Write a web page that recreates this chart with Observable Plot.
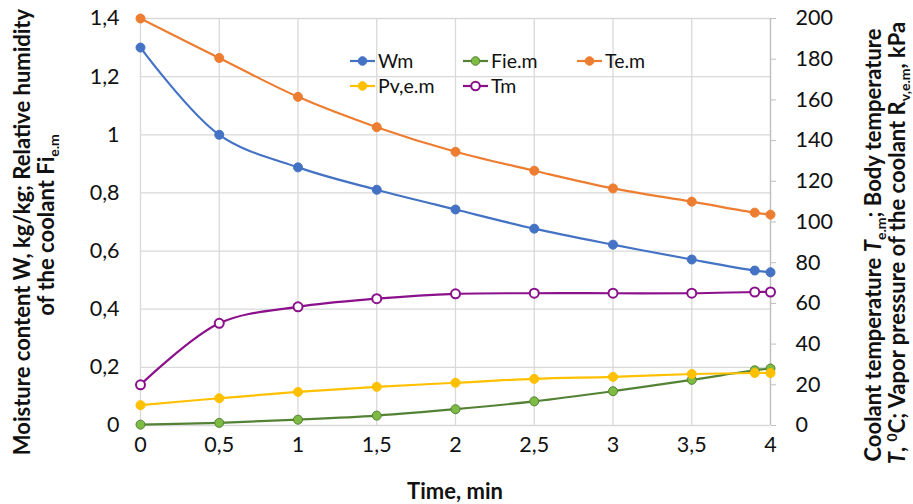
<!DOCTYPE html>
<html><head><meta charset="utf-8">
<script src="https://cdn.jsdelivr.net/npm/d3@7"></script>
<script src="https://cdn.jsdelivr.net/npm/@observablehq/plot@0.6"></script>
<style>
body{margin:0;background:#fff}
#chart svg{font-family:Lato,"Open Sans",sans-serif;background:#fff}
</style>
</head><body><div id="chart"></div>
<script>
// ---- data ----
const time = [0, 0.5, 1, 1.5, 2, 2.5, 3, 3.5, 3.9, 4];
const Wm   = [1.30, 1.00, 0.888, 0.811, 0.743, 0.677, 0.622, 0.571, 0.533, 0.527];
const Fiem = [0.003, 0.009, 0.02, 0.034, 0.056, 0.083, 0.118, 0.157, 0.19, 0.196];
const Tem  = [200, 180.6, 161.5, 146.6, 134.5, 125.2, 116.5, 110, 104.6, 103.6];
const Pvem = [10, 13.4, 16.5, 19, 21, 22.9, 23.9, 25.3, 25.8, 25.8];
const Tm   = [20, 50.2, 58.3, 62.3, 64.7, 65, 65, 65, 65.6, 65.6];
const xTicks = [0, 0.5, 1, 1.5, 2, 2.5, 3, 3.5, 4];
const leftTicks = [0, 0.2, 0.4, 0.6, 0.8, 1, 1.2, 1.4];
const rightTicks = [0, 20, 40, 60, 80, 100, 120, 140, 160, 180, 200];
const seriesNames = ["Wm", "Fie.m", "Te.m", "Pv,e.m", "Tm"];
const seriesColors = ["#4472c4", "#548235", "#ed7d31", "#ffc000", "#8b108b"];

const k = 1.4 / 200; // right axis -> left axis units
const rows = time.map((t, i) => ({t, Wm: Wm[i], Fie: Fiem[i], Te: Tem[i], Pv: Pvem[i], Tm: Tm[i]}));
const comma = d => String(d).replace(".", ",");
const grid = "#d9d9d9";
const FS = 21.5;

const series = [
  {y: d => d.Wm, color: seriesColors[0], fill: seriesColors[0]},
  {y: d => d.Fie, color: seriesColors[1], fill: "#7dbb42"},
  {y: d => d.Te * k, color: seriesColors[2], fill: seriesColors[2]},
  {y: d => d.Pv * k, color: seriesColors[3], fill: seriesColors[3]},
  {y: d => d.Tm * k, color: seriesColors[4], fill: "#fff"}
];

const marks = [
  Plot.gridX(xTicks, {stroke: grid, strokeOpacity: 1, strokeWidth: 1.3}),
  Plot.gridY(leftTicks, {stroke: grid, strokeOpacity: 1, strokeWidth: 1.3}),
  Plot.axisX(xTicks, {tickSize: 0, tickPadding: 11, fontSize: FS, fill: "#111", tickFormat: comma, label: null}),
  Plot.axisY(leftTicks, {anchor: "left", tickSize: 0, tickPadding: 21, fontSize: FS, fill: "#111", tickFormat: comma, label: null}),
  Plot.axisY(rightTicks.map(v => v * k), {anchor: "right", tickSize: 5, tickPadding: 20, fontSize: FS, fill: "#111", stroke: "#bfbfbf", tickFormat: d => Math.round(d / k), label: null}),
  Plot.ruleX([4], {stroke: "#bfbfbf", strokeWidth: 1.3})
];
for (const s of series) {
  marks.push(Plot.line(rows, {x: "t", y: s.y, stroke: s.color, strokeWidth: 2.2, curve: "catmull-rom"}));
  marks.push(Plot.dot(rows, {x: "t", y: s.y, r: 4.5, fill: s.fill, stroke: s.color, strokeWidth: s.fill === "#fff" ? 2 : 1}));
}

const chart = Plot.plot({
  width: 913, height: 504,
  marginLeft: 140, marginRight: 143, marginTop: 18, marginBottom: 79,
  x: {domain: [0, 4]},
  y: {domain: [0, 1.4]},
  style: {fontFamily: "Lato, 'Open Sans', sans-serif", background: "#fff"},
  marks
});
document.getElementById("chart").append(chart);

// ---- titles and legend ----
const svg = d3.select(chart);
const bold = g => g.attr("font-weight", "bold").attr("font-size", 22).attr("fill", "#111");

svg.append("text").call(bold).attr("text-anchor", "middle").attr("x", 455).attr("y", 499).text("Time, min");

function addRot(x, y, parts) {
  const t = svg.append("text").call(bold).attr("text-anchor", "middle")
    .attr("transform", `translate(${x},${y}) rotate(-90)`);
  for (const p of parts) {
    const ts = t.append("tspan").text(p.s);
    if (p.i) ts.attr("font-style", "italic");
    if (p.sub) ts.attr("font-size", 14).attr("dy", 5);
    if (p.sup) ts.attr("font-size", 14).attr("dy", -8);
    if (p.back) ts.attr("dy", p.back);
  }
}
addRot(30, 232, [{s: "Moisture content W, kg/kg; Relative humidity"}]);
addRot(54, 225, [{s: "of the coolant Fi"}, {s: "e.m", sub: true}]);
addRot(881, 245, [{s: "Coolant temperature "}, {s: "T", i: true}, {s: "e.m", sub: true}, {s: "; Body temperature", back: -5}]);
addRot(905, 243, [{s: "T", i: true}, {s: ", "}, {s: "0", sup: true}, {s: "C; Vapor pressure of the coolant R", back: 8}, {s: "v,e.m", sub: true}, {s: ", kPa", back: -5}]);

const legendPos = [[350, 61], [463, 61], [577, 61], [350, 86], [463, 86]];
seriesNames.forEach((name, i) => {
  const [x, y] = legendPos[i];
  const g = svg.append("g");
  g.append("line").attr("x1", x).attr("x2", x + 25).attr("y1", y).attr("y2", y)
    .attr("stroke", seriesColors[i]).attr("stroke-width", 2.2);
  g.append("circle").attr("cx", x + 12.5).attr("cy", y).attr("r", 4.3)
    .attr("fill", series[i].fill).attr("stroke", seriesColors[i]).attr("stroke-width", series[i].fill === "#fff" ? 2 : 1);
  g.append("text").attr("text-anchor", "start").attr("x", x + 28).attr("y", y + 7)
    .attr("font-size", 19.5).attr("fill", "#111").text(name);
});
</script>
</body></html>
